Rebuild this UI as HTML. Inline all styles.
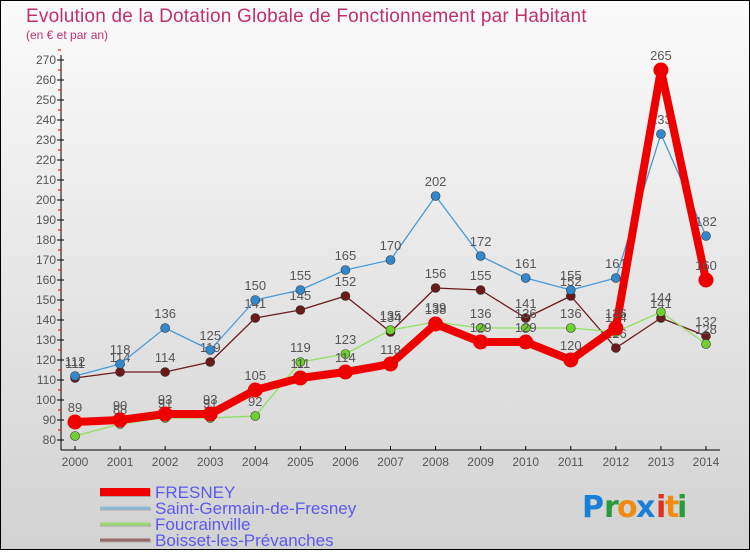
<!DOCTYPE html>
<html><head><meta charset="utf-8"><style>
body{margin:0;width:750px;height:550px;overflow:hidden;font-family:"Liberation Sans",sans-serif}
</style></head><body>
<svg id="c" width="750" height="550" xmlns="http://www.w3.org/2000/svg">
<defs><linearGradient id="bg" x1="0" y1="0" x2="0" y2="1"><stop offset="0" stop-color="#fbfbfb"/><stop offset="1" stop-color="#d2d2d2"/></linearGradient></defs>
<rect x="0.5" y="0.5" width="749" height="549" fill="url(#bg)" stroke="#000"/>
<text x="26" y="22" font-size="19" fill="#c0306a" font-weight="normal" letter-spacing="0.2">Evolution de la Dotation Globale de Fonctionnement par Habitant</text>
<text x="26" y="39" font-size="12" fill="#c0306a">(en € et par an)</text>
<g id="axes"></g><g id="series"></g><g id="legend"></g>
<g font-size="30" font-weight="bold" font-family="'DejaVu Sans',sans-serif">
<text x="582" y="517" fill="#1a7fd6">P</text><text x="604" y="517" fill="#2a9a3a">r</text><text x="617" y="517" fill="#f08a10">o</text><text x="636" y="517" fill="#1a7fd6">x</text><text x="656" y="517" fill="#e03020">i</text><text x="665" y="517" fill="#f08a10">t</text><text x="677" y="517" fill="#2a9a3a">i</text>
</g>
</svg>
<script>
const years=[2000,2001,2002,2003,2004,2005,2006,2007,2008,2009,2010,2011,2012,2013,2014];
const fresney=[89,90,93,93,105,111,114,118,138,129,129,120,136,265,160];
const saintGermain=[112,118,136,125,150,155,165,170,202,172,161,155,161,233,182];
const foucrainville=[82,88,91,91,92,119,123,135,139,136,136,136,134,144,128];
const boisset=[111,114,114,119,141,145,152,134,156,155,141,152,126,141,132];
const yTicks=[80,90,100,110,120,130,140,150,160,170,180,190,200,210,220,230,240,250,260,270];
const NS="http://www.w3.org/2000/svg";
const X=i=>75+i*(706-75)/(years.length-1);
const Y=v=>440-(v-80)*2;
function mk(t,a,p){const e=document.createElementNS(NS,t);for(const k in a)e.setAttribute(k,a[k]);p.appendChild(e);return e;}
const ax=document.getElementById('axes');
let l=mk('line',{x1:61,y1:55,x2:61,y2:450,stroke:'#000'},ax);


l=mk('line',{x1:61,y1:450,x2:720,y2:450,stroke:'#000'},ax);


yTicks.forEach(v=>{
 mk('line',{x1:57,y1:Y(v),x2:64,y2:Y(v),stroke:'#000'},ax);
 mk('line',{x1:58,y1:Y(v)-10,x2:61,y2:Y(v)-10,stroke:'#e00'},ax);
 const t=mk('text',{x:56,y:Y(v)+4,'font-size':12,fill:'#555','text-anchor':'end'},ax);t.textContent=v;
 
 
});
years.forEach((y,i)=>{
 mk('line',{x1:X(i),y1:446,x2:X(i),y2:450,stroke:'#000'},ax);
 const t=mk('text',{x:X(i),y:466,'font-size':12,fill:'#555','text-anchor':'middle'},ax);t.textContent=y;
 
 
});
const S=[
 {n:'Boisset-les-Prévanches',d:boisset,c:'#6b1a1a',w:1.3,r:4.5,k:'boisset-line'},
 {n:'Foucrainville',d:foucrainville,c:'#90e060',w:1.3,r:4.5,k:'foucrainville-line',fc:'#70d030'},
 {n:'Saint-Germain-de-Fresney',d:saintGermain,c:'#4a9ad6',w:1.3,r:4.5,k:'saint-germain-line',fc:'#3388cc'},
 {n:'FRESNEY',d:fresney,c:'#ee0000',w:8,r:7.5,k:'fresney-line'}
];
const sg=document.getElementById('series');
S.forEach(s=>{
 const g=mk('g',{},sg);
 
 
 mk('polyline',{points:s.d.map((v,i)=>X(i)+','+Y(v)).join(' '),fill:'none',stroke:s.c,'stroke-width':s.w,'stroke-linejoin':'round'},g);
 s.d.forEach((v,i)=>{
  const p=mk('circle',{cx:X(i),cy:Y(v),r:s.r,fill:s.fc||s.c,stroke:s.k==='fresney-line'?'#e00':'#333','stroke-width':s.k==='fresney-line'?0:0.6},g);
  
  
  const t=mk('text',{x:X(i),y:Y(v)-10,'font-size':13,fill:'#555','text-anchor':'middle'},g);t.textContent=v;
  
  
 });
});
const lg=document.getElementById('legend');
const L=[['FRESNEY','#ee0000',8],['Saint-Germain-de-Fresney','#8ab8d6',3],['Foucrainville','#9ad870',3],['Boisset-les-Prévanches','#9a6a6a',3]];
L.forEach((e,i)=>{
 const g=mk('g',{},lg);
 
 
 const y=492+i*16;
 mk('line',{x1:100,y1:y+1,x2:151,y2:y+1,stroke:'#aaa','stroke-width':e[2]},g);
 mk('line',{x1:100,y1:y,x2:150,y2:y,stroke:e[1],'stroke-width':e[2]},g);
 const t=mk('text',{x:155,y:y+6,'font-size':17,fill:'#5a5aee'},g);t.textContent=e[0];
});
</script>
</body></html>
